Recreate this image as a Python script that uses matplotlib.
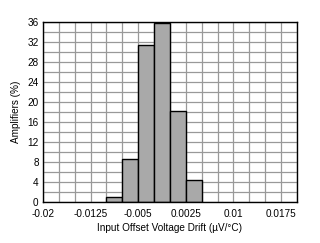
import matplotlib.pyplot as plt
import numpy as np

plt.rcParams['font.family'] = ['Liberation Sans', 'DejaVu Sans']

# histogram bins (left edges) and heights
bin_left = [-0.01, -0.0075, -0.005, -0.0025, 0.0, 0.0025]
bin_width = 0.0025
amplifiers_pct = [1.0, 8.5, 31.5, 35.8, 18.3, 4.3]

xticks = [-0.02, -0.0125, -0.005, 0.0025, 0.01, 0.0175]
xtick_labels = ['-0.02', '-0.0125', '-0.005', '0.0025', '0.01', '0.0175']
yticks = list(range(0, 37, 4))

fig = plt.figure(figsize=(3.2, 2.43), dpi=100)
ax = fig.add_axes([0.134, 0.169, 0.794, 0.740])

ax.bar(bin_left, amplifiers_pct, width=bin_width, align='edge',
       color='#a9a9a9', edgecolor='black', linewidth=1.0, zorder=3)

ax.set_xlim(-0.02, 0.02)
ax.set_ylim(0, 36)
ax.set_xticks(np.arange(-0.02, 0.02001, 0.0025), minor=True)
ax.set_yticks(range(0, 37, 2), minor=True)
ax.set_xticks(xticks)
ax.set_xticklabels(xtick_labels)
ax.set_yticks(yticks)
ax.grid(which='both', color='#999999', linewidth=0.9, zorder=0)
ax.set_axisbelow(True)
ax.tick_params(which='both', length=0, labelsize=7.2)
ax.tick_params(axis='x', pad=5)
ax.tick_params(axis='y', pad=3)

for s in ax.spines.values():
    s.set_linewidth(1.0)
    s.set_zorder(4)

ax.set_xlabel('Input Offset Voltage Drift (\u00b5V/\u00b0C)', fontsize=7.2, labelpad=3)
ax.set_ylabel('Amplifiers (%)', fontsize=7.2, labelpad=5)

plt.savefig('out.png', dpi=100)
